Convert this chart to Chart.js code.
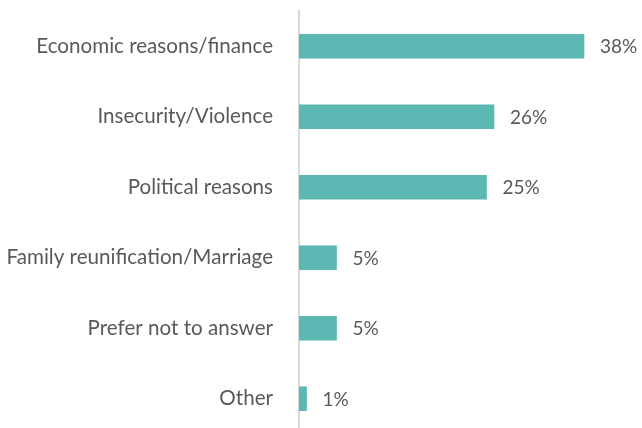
<!DOCTYPE html>
<html>
<head>
<meta charset="utf-8">
<script src="https://cdn.jsdelivr.net/npm/chart.js@4"></script>
<style>
  html, body { margin: 0; padding: 0; background: #fff; overflow: hidden; }
  #wrap { width: 642px; height: 434px; }
</style>
</head>
<body>
<div id="wrap"><canvas id="c" width="642" height="434"></canvas></div>
<script>
// Reasons for leaving, share of respondents (%)
const categories = [
  'Economic reasons/finance',
  'Insecurity/Violence',
  'Political reasons',
  'Family reunification/Marriage',
  'Prefer not to answer',
  'Other'
];
const shares = [38, 26, 25, 5, 5, 1];
const valueLabels = ['38%', '26%', '25%', '5%', '5%', '1%'];

const textColor = '#595959';
const fontFamily = 'Lato, "Open Sans", sans-serif';

// Writes the percentage just past the end of each bar
const valueLabelPlugin = {
  id: 'valueLabels',
  afterDatasetsDraw(chart) {
    const ctx = chart.ctx;
    const meta = chart.getDatasetMeta(0);
    ctx.save();
    ctx.fillStyle = textColor;
    ctx.font = '19px ' + fontFamily;
    ctx.textAlign = 'left';
    ctx.textBaseline = 'middle';
    meta.data.forEach((bar, i) => {
      ctx.fillText(valueLabels[i], bar.x + 16, bar.y + 1);
    });
    ctx.restore();
  }
};

new Chart(document.getElementById('c'), {
  type: 'bar',
  data: {
    labels: categories,
    datasets: [{
      data: shares,
      backgroundColor: '#5bb8b2',
      borderWidth: 0,
      barThickness: 24
    }]
  },
  options: {
    indexAxis: 'y',
    responsive: false,
    animation: false,
    layout: { padding: { top: 11, right: 5.5, bottom: 0, left: 0 } },
    plugins: { legend: { display: false }, tooltip: { enabled: false } },
    scales: {
      x: {
        display: false,
        min: 0,
        max: 45
      },
      y: {
        grid: { display: false, drawTicks: false },
        border: { display: true, color: '#d9d9d9', width: 2 },
        ticks: {
          color: textColor,
          font: { family: fontFamily, size: 20.6 },
          padding: 26
        },
        afterFit(scale) {
          scale.width = 299;
          scale.paddingTop = 0;
          scale.paddingBottom = 0;
        }
      }
    }
  },
  plugins: [valueLabelPlugin]
});
</script>
</body>
</html>
